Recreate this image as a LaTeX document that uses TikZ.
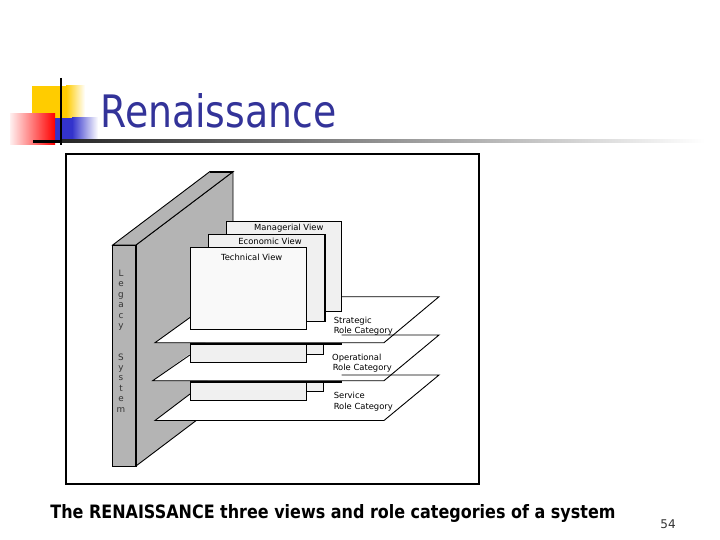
\documentclass[tikz,border=0pt]{standalone}
\usepackage{fontspec}
\setmainfont{DejaVu Sans}
\usepackage{graphicx}
\definecolor{wallgray}{RGB}{180,180,180}
\definecolor{sheetgray}{RGB}{240,240,240}
\definecolor{techwhite}{RGB}{249,249,249}
\definecolor{titleblue}{RGB}{51,51,153}
\definecolor{logoyellow}{RGB}{255,204,0}
\definecolor{logoblue}{RGB}{51,51,204}
\definecolor{logored}{RGB}{255,0,0}
\tikzset{
  lbl/.style={inner sep=0pt, font=\fontsize{8.4}{9}\selectfont},
  legacyltr/.style={inner sep=0pt, anchor=base, text=black!80, font=\fontsize{8.8}{9}\selectfont},
  sheet/.style={fill=sheetgray, draw=black, line width=0.9pt},
  planefill/.style={fill=white, draw=none},
  edge/.style={draw=black, line width=0.9pt},
}
\begin{document}
\begin{tikzpicture}[x=1pt,y=-1pt,line width=0.9pt]
\useasboundingbox (0,0) rectangle (720,540);
\fill[white] (0,0) rectangle (720,540);
% ---- logo ----
\fill[logoyellow] (32,86) rectangle (66,118);
\shade[left color=logoyellow, right color=white] (66,86) rectangle (85,118);
\fill[logoblue] (55,118) rectangle (72,140);
\shade[left color=logoblue, right color=white] (72,118) rectangle (98,140);
\shade[left color=red!6, right color=logored] (10,114) rectangle (55,145);
\fill[black] (33,140) rectangle (62,142.6);
\shade[left color=black!85, right color=white] (62,140) rectangle (705,142.6);
\draw[line width=2.6pt] (61,78) -- (61,145);
% ---- title ----
\node[anchor=base west, inner sep=0pt, text=titleblue] (title) at (100,128) {\resizebox{236pt}{34pt}{Renaissance}};
% ---- frame ----
\draw[line width=1.4pt] (66,154) rectangle (479,484);
% ---- wall ----
\filldraw[fill=wallgray] (136,245) -- (233,171.7) -- (233,392.7) -- (136,466) -- cycle;
\filldraw[fill=wallgray] (112.7,245) -- (209.7,171.7) -- (233,171.7) -- (136,245) -- cycle;
\filldraw[fill=wallgray] (112.7,245) rectangle (136,466);
\draw[line width=2pt] (209.7,171.7) -- (233,171.7);
\draw[line width=1.8pt] (136,245) -- (136,466);
% ---- plane fills ----
\path[planefill] (155,342.7) -- (384,342.7) -- (439,296.7) -- (219,296.7) -- cycle;
\path[planefill] (152.7,380.7) -- (384,380.7) -- (439,335) -- (216,335) -- cycle;
\path[planefill] (155,420.5) -- (384,420.5) -- (439,375) -- (215,375) -- cycle;
% ---- view sheets ----
\path[sheet] (226.7,221) rectangle (341.7,311.7);
\path[sheet] (208.3,234.3) rectangle (325,321.7);
\draw[line width=1.6pt] (325,234.3) -- (325,321.7);
\path[sheet, fill=techwhite] (190,247.3) rectangle (306.7,329.3);
% below strategic plane
\path[sheet] (306.7,344) rectangle (323.3,354);
\path[sheet] (190,344) rectangle (306.7,362.3);
\draw[line width=2pt] (190,343.8) -- (341.7,343.8);
% below operational plane
\path[sheet] (306.7,382) rectangle (323.3,391.7);
\path[sheet] (190,382) rectangle (306.7,400);
\draw[line width=2pt] (190,381.8) -- (341.7,381.8);
% ---- plane edges ----
\draw[edge] (190,317.5) -- (155,342.7) -- (384,342.7) -- (439,296.7) -- (341.7,296.7);
\draw[edge] (190,354.9) -- (152.7,380.7) -- (384,380.7) -- (439,335) -- (341.7,335);
\draw[edge] (190,394) -- (155,420.5) -- (384,420.5) -- (439,375) -- (341.7,375);
% ---- labels ----
\node[lbl, anchor=base] (mv) at (288.8,230.5) {Managerial View};
\node[lbl, anchor=base] (ev) at (270,244.7) {Economic View};
\node[lbl, anchor=base] (tv) at (251.7,260.7) {Technical View};
\node[lbl, anchor=base west] (s1) at (333.3,323.3) {Strategic};
\node[lbl, anchor=base west] (s2) at (333.3,333.5) {Role Category};
\node[lbl, anchor=base west] (o1) at (331.7,360) {Operational};
\node[lbl, anchor=base west] (o2) at (332.3,370.7) {Role Category};
\node[lbl, anchor=base west] (v1) at (333.3,398.3) {Service};
\node[lbl, anchor=base west] (v2) at (333.3,409) {Role Category};
\foreach \ch [count=\i from 0] in {L,e,g,a,c,y}
  \node[legacyltr] (lg\i) at (121,{276.4+10.45*\i}) {\ch};
\foreach \ch [count=\i from 8] in {S,y,s,t,e,m}
  \node[legacyltr] (sy\i) at (121,{276.4+10.45*\i}) {\ch};
% ---- caption ----
\node[anchor=base west, inner sep=0pt] (caption) at (50,518) {\resizebox{565pt}{14pt}{\bfseries The RENAISSANCE three views and role categories of a system}};
\node[anchor=base west, inner sep=0pt, text=black!80, font=\fontsize{12}{14}\selectfont] (pagenum) at (660,528) {54};
\end{tikzpicture}
\end{document}
